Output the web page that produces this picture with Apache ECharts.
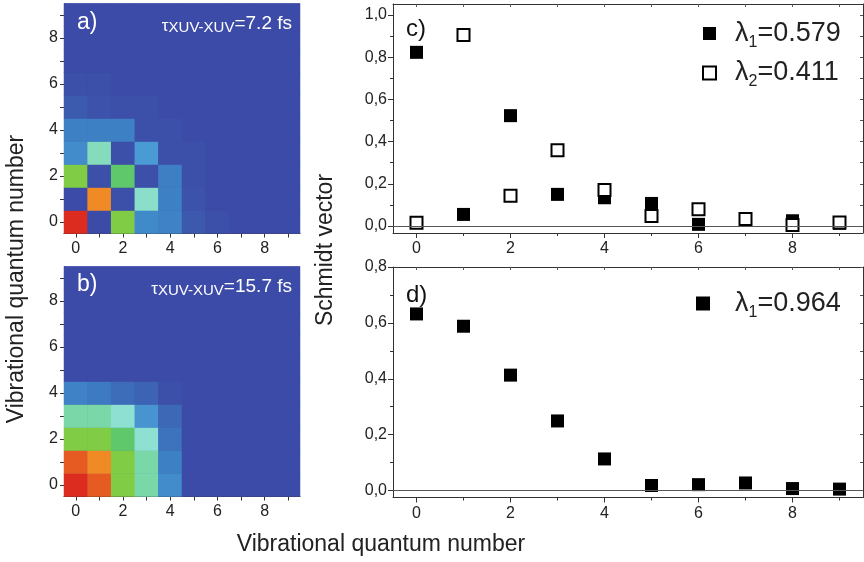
<!DOCTYPE html>
<html><head><meta charset="utf-8">
<script src="https://cdn.jsdelivr.net/npm/echarts@6/dist/echarts.min.js"></script>
<style>html,body{margin:0;padding:0;background:#fff}#c{width:864px;height:562px}</style>
</head><body><div id="c"></div>
<script>
// ---------- data ----------
const quantumNumbers = ['0','1','2','3','4','5','6','7','8','9'];
// heatmap rows: index = vertical quantum number (0 at bottom), columns = horizontal quantum number
const heatA = [
  [1.00, 0.00, 0.80, 0.32, 0.28, 0.08, 0.02, 0.00, 0.00, 0.00],
  [0.00, 0.90, 0.02, 0.52, 0.27, 0.04, 0.00, 0.00, 0.00, 0.00],
  [0.80, 0.02, 0.70, 0.02, 0.26, 0.03, 0.00, 0.00, 0.00, 0.00],
  [0.33, 0.55, 0.02, 0.40, 0.03, 0.02, 0.00, 0.00, 0.00, 0.00],
  [0.27, 0.27, 0.27, 0.03, 0.02, 0.00, 0.00, 0.00, 0.00, 0.00],
  [0.09, 0.04, 0.03, 0.02, 0.00, 0.00, 0.00, 0.00, 0.00, 0.00],
  [0.02, 0.02, 0.00, 0.00, 0.00, 0.00, 0.00, 0.00, 0.00, 0.00],
  [0.00, 0.00, 0.00, 0.00, 0.00, 0.00, 0.00, 0.00, 0.00, 0.00],
  [0.00, 0.00, 0.00, 0.00, 0.00, 0.00, 0.00, 0.00, 0.00, 0.00],
  [0.00, 0.00, 0.00, 0.00, 0.00, 0.00, 0.00, 0.00, 0.00, 0.00]
];
const heatB = [
  [1.00, 0.95, 0.80, 0.60, 0.33, 0.00, 0.00, 0.00, 0.00, 0.00],
  [0.95, 0.90, 0.80, 0.60, 0.27, 0.00, 0.00, 0.00, 0.00, 0.00],
  [0.80, 0.80, 0.70, 0.50, 0.20, 0.00, 0.00, 0.00, 0.00, 0.00],
  [0.60, 0.60, 0.50, 0.37, 0.15, 0.00, 0.00, 0.00, 0.00, 0.00],
  [0.28, 0.24, 0.17, 0.13, 0.02, 0.00, 0.00, 0.00, 0.00, 0.00],
  [0.00, 0.00, 0.00, 0.00, 0.00, 0.00, 0.00, 0.00, 0.00, 0.00],
  [0.00, 0.00, 0.00, 0.00, 0.00, 0.00, 0.00, 0.00, 0.00, 0.00],
  [0.00, 0.00, 0.00, 0.00, 0.00, 0.00, 0.00, 0.00, 0.00, 0.00],
  [0.00, 0.00, 0.00, 0.00, 0.00, 0.00, 0.00, 0.00, 0.00, 0.00],
  [0.00, 0.00, 0.00, 0.00, 0.00, 0.00, 0.00, 0.00, 0.00, 0.00]
];
const vibLevels = [0, 1, 2, 3, 4, 5, 6, 7, 8, 9];
const schmidtC1 = [0.823, 0.055, 0.523, 0.150, 0.134, 0.107, 0.008, 0.030, 0.025, 0.013];
const schmidtC2 = [0.016, 0.905, 0.144, 0.359, 0.171, 0.047, 0.079, 0.033, 0.005, 0.017];
const schmidtD1 = [0.632, 0.588, 0.413, 0.249, 0.113, 0.018, 0.021, 0.027, 0.007, 0.005];
const eigenC = ['0.579', '0.411'];
const eigenD = ['0.964'];
const xMajorTicks = [0, 2, 4, 6, 8];
const xMinorTicks = [1, 3, 5, 7, 9];
const xAllTicks = [0, 1, 2, 3, 4, 5, 6, 7, 8, 9];
const yMajorC = [0, 0.2, 0.4, 0.6, 0.8, 1.0];
const yMinorC = [0.1, 0.3, 0.5, 0.7, 0.9];
const yMajorD = [0, 0.2, 0.4, 0.6, 0.8];
const yMinorD = [0.1, 0.3, 0.5, 0.7];
const colorScale = ['#3c4ba7', '#3c5db0', '#3d72bc', '#3f86c8', '#4a9ad4', '#8ee0d2',
                    '#7ad8a8', '#5ec86a', '#80cc44', '#f08a24', '#dc2c20'];

// ---------- helpers ----------
const FONT = '"Liberation Sans", Arial, sans-serif';
const TXT = '#222';
function cells(m) {
  const out = [];
  m.forEach((row, y) => row.forEach((v, x) => out.push([x, y, v])));
  return out;
}
function pairs(xs, ys) { return xs.map((x, i) => [x, ys[i]]); }
const comma = v => v.toFixed(1).replace('.', ',');
const lbl = { fontSize: 16, color: TXT, fontFamily: FONT };
const line = { show: true, onZero: false, lineStyle: { color: '#333', width: 1 } };

function catAxis(grid, dim) {
  return {
    type: 'category', gridIndex: grid, data: quantumNumbers,
    axisLine: line,
    axisTick: { show: true, alignWithLabel: true, interval: 0, length: 4, lineStyle: { color: '#333' } },
    axisLabel: Object.assign({ interval: 1, margin: dim === 'x' ? 7 : 6 }, lbl),
    splitLine: { show: false }
  };
}
function valX(grid, opts) {
  return Object.assign({
    type: 'value', gridIndex: grid, min: -0.5, max: 9.5,
    splitLine: { show: false }, axisLine: line
  }, opts);
}
function valY(grid, min, max, opts) {
  return Object.assign({
    type: 'value', gridIndex: grid, min: min, max: max,
    splitLine: { show: false }, axisLine: line
  }, opts);
}
const hidden = { show: false, onZero: false };

const richLegend = {
  g: { fontSize: 27, color: TXT, fontFamily: FONT, lineHeight: 34 },
  s: { fontSize: 16, color: TXT, fontFamily: FONT, verticalAlign: 'bottom', lineHeight: 20 }
};
const legendFmt = name => name.replace(/λ(\d)=(.*)/, '{g|λ}{s|$1}{g|=$2}');

const nameC1 = 'λ1=' + eigenC[0];
const nameC2 = 'λ2=' + eigenC[1];
const nameD1 = 'λ1=' + eigenD[0];

const tauRich = {
  t: { fontSize: 17, color: '#fff', fontFamily: FONT, fontWeight: 'normal', verticalAlign: 'bottom', lineHeight: 22 },
  s: { fontSize: 15, color: '#fff', fontFamily: FONT, fontWeight: 'normal', verticalAlign: 'bottom', lineHeight: 18 },
  n: { fontSize: 19, color: '#fff', fontFamily: FONT, fontWeight: 'normal', lineHeight: 22 }
};

const option = {
  backgroundColor: '#fff',
  animation: false,
  textStyle: { fontFamily: FONT },
  grid: [
    { left: 64, top: 3.5, width: 236, height: 230, show: true, backgroundColor: colorScale[0], borderWidth: 0 },
    { left: 64, top: 266.5, width: 236, height: 230, show: true, backgroundColor: colorScale[0], borderWidth: 0 },
    { left: 393, top: 4, width: 470, height: 229 },
    { left: 393, top: 267, width: 470, height: 230.5 }
  ],
  xAxis: [
    catAxis(0, 'x'),
    catAxis(1, 'x'),
    // c
    valX(2, { axisTick: { customValues: xMajorTicks, length: 5, lineStyle: { color: '#333' } },
              axisLabel: Object.assign({ customValues: xMajorTicks, margin: 8 }, lbl) }),
    valX(2, { position: 'bottom', axisLine: hidden, axisLabel: { show: false },
              axisTick: { customValues: xMinorTicks, length: 3, lineStyle: { color: '#333' } } }),
    valX(2, { position: 'top', axisLabel: { show: false },
              axisTick: { customValues: xAllTicks, inside: true, length: 3, lineStyle: { color: '#555' } } }),
    // d
    valX(3, { axisTick: { customValues: xMajorTicks, length: 5, lineStyle: { color: '#333' } },
              axisLabel: Object.assign({ customValues: xMajorTicks, margin: 8 }, lbl) }),
    valX(3, { position: 'bottom', axisLine: hidden, axisLabel: { show: false },
              axisTick: { customValues: xMinorTicks, length: 3, lineStyle: { color: '#333' } } }),
    valX(3, { position: 'top', axisLabel: { show: false },
              axisTick: { customValues: xAllTicks, inside: true, length: 3, lineStyle: { color: '#555' } } })
  ],
  yAxis: [
    catAxis(0, 'y'),
    catAxis(1, 'y'),
    // c
    valY(2, -0.033, 1.052, { position: 'left', axisTick: { customValues: yMajorC, length: 5, lineStyle: { color: '#333' } },
              axisLabel: Object.assign({ customValues: yMajorC, formatter: comma, margin: 6 }, lbl) }),
    valY(2, -0.033, 1.052, { position: 'left', axisLine: hidden, axisLabel: { show: false },
              axisTick: { customValues: yMinorC, length: 3, lineStyle: { color: '#333' } } }),
    valY(2, -0.033, 1.052, { position: 'right', axisLabel: { show: false },
              axisTick: { customValues: yMajorC.concat(yMinorC), inside: true, length: 3, lineStyle: { color: '#555' } } }),
    // d
    valY(3, -0.025, 0.8, { position: 'left', axisTick: { customValues: yMajorD, length: 5, lineStyle: { color: '#333' } },
              axisLabel: Object.assign({ customValues: yMajorD, formatter: comma, margin: 6 }, lbl) }),
    valY(3, -0.025, 0.8, { position: 'left', axisLine: hidden, axisLabel: { show: false },
              axisTick: { customValues: yMinorD, length: 3, lineStyle: { color: '#333' } } }),
    valY(3, -0.025, 0.8, { position: 'right', axisLabel: { show: false },
              axisTick: { customValues: yMajorD.concat(yMinorD), inside: true, length: 3, lineStyle: { color: '#555' } } })
  ],
  visualMap: [{
    type: 'continuous', show: false, min: 0, max: 1, seriesIndex: [0, 1],
    inRange: { color: colorScale }
  }],
  legend: [
    {
      left: 697, top: 15, orient: 'vertical', itemWidth: 13, itemHeight: 13, itemGap: 9,
      data: [
        { name: nameC1, icon: 'rect', itemStyle: { color: '#000', borderWidth: 0 } },
        { name: nameC2, icon: 'rect', itemStyle: { color: '#fff', borderColor: '#000', borderWidth: 2 } }
      ],
      formatter: legendFmt,
      textStyle: { padding: [0, 0, 0, 14], rich: richLegend },
      selectedMode: false
    },
    {
      left: 691, top: 285, orient: 'vertical', itemWidth: 14, itemHeight: 14,
      data: [{ name: nameD1, icon: 'rect', itemStyle: { color: '#000', borderWidth: 0 } }],
      formatter: legendFmt,
      textStyle: { padding: [0, 0, 0, 20], rich: richLegend },
      selectedMode: false
    }
  ],
  title: [
    { text: 'a)', left: 72, top: 6, textStyle: { color: '#fff', fontSize: 23, fontWeight: 'normal', fontFamily: FONT } },
    { text: 'b)', left: 72, top: 268, textStyle: { color: '#fff', fontSize: 23, fontWeight: 'normal', fontFamily: FONT } },
    { text: '{t|τ}{s|XUV-XUV}{n|=7.2 fs}', right: 567, top: 8,
      textStyle: { fontWeight: 'normal', rich: tauRich } },
    { text: '{t|τ}{s|XUV-XUV}{n|=15.7 fs}', right: 567, top: 271,
      textStyle: { fontWeight: 'normal', rich: tauRich } },
    { text: 'c)', left: 401, top: 12, textStyle: { color: '#111', fontSize: 24, fontWeight: 'normal', fontFamily: FONT } },
    { text: 'd)', left: 401, top: 278, textStyle: { color: '#111', fontSize: 24, fontWeight: 'normal', fontFamily: FONT } }
  ],
  graphic: [
    { type: 'text', x: 17, y: 279, rotation: Math.PI / 2,
      style: { text: 'Vibrational quantum number', fontSize: 23, fill: TXT, fontFamily: FONT, align: 'center', verticalAlign: 'middle' } },
    { type: 'text', x: 326, y: 250, rotation: Math.PI / 2,
      style: { text: 'Schmidt vector', fontSize: 23, fill: TXT, fontFamily: FONT, align: 'center', verticalAlign: 'middle' } },
    { type: 'text', x: 381, y: 545,
      style: { text: 'Vibrational quantum number', fontSize: 23, fill: TXT, fontFamily: FONT, align: 'center', verticalAlign: 'middle' } }
  ],
  series: [
    { type: 'heatmap', xAxisIndex: 0, yAxisIndex: 0, data: cells(heatA), itemStyle: { borderWidth: 0 } },
    { type: 'heatmap', xAxisIndex: 1, yAxisIndex: 1, data: cells(heatB), itemStyle: { borderWidth: 0 } },
    { type: 'scatter', name: nameC1, xAxisIndex: 2, yAxisIndex: 2, symbol: 'rect', symbolSize: 13,
      itemStyle: { color: '#000', opacity: 1 }, data: pairs(vibLevels, schmidtC1),
      markLine: { silent: true, symbol: 'none', label: { show: false },
        lineStyle: { color: '#555', width: 1, type: 'solid' }, data: [{ yAxis: 0 }] } },
    { type: 'scatter', name: nameC2, xAxisIndex: 2, yAxisIndex: 2, symbol: 'rect', symbolSize: 12,
      itemStyle: { color: '#fff', borderColor: '#000', borderWidth: 2, opacity: 1 }, data: pairs(vibLevels, schmidtC2) },
    { type: 'scatter', name: nameD1, xAxisIndex: 5, yAxisIndex: 5, symbol: 'rect', symbolSize: 13,
      itemStyle: { color: '#000', opacity: 1 }, data: pairs(vibLevels, schmidtD1),
      markLine: { silent: true, symbol: 'none', label: { show: false },
        lineStyle: { color: '#555', width: 1, type: 'solid' }, data: [{ yAxis: 0 }] } }
  ]
};
const chart = echarts.init(document.getElementById('c'), null, { renderer: 'canvas' });
chart.setOption(option);
</script>
</body></html>
